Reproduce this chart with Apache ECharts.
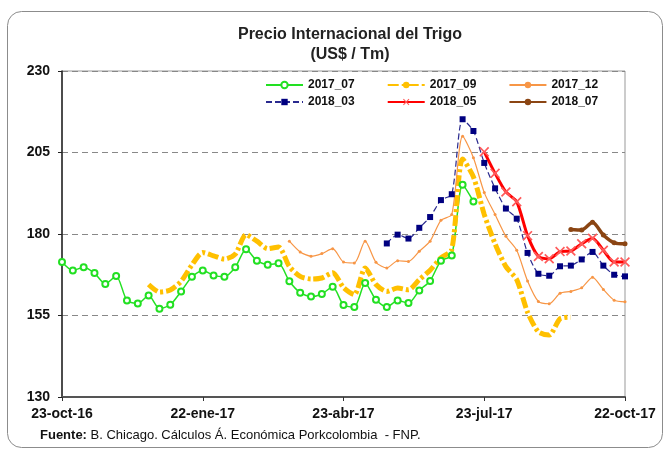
<!DOCTYPE html>
<html lang="es">
<head>
<meta charset="UTF-8" />
<title>Precio Internacional del Trigo</title>
<script src="https://cdn.jsdelivr.net/npm/echarts@6/dist/echarts.min.js"></script>
<style>
  html, body { margin: 0; padding: 0; background: #fff; }
  #main { width: 664px; height: 450px; }
</style>
</head>
<body>
<div id="main"></div>
<script>
// semanas desde 23-oct-16 hasta 22-oct-17 (53 puntos)
var startDate = Date.UTC(2016, 9, 23);
var nWeeks = 53;
var tickLabels = ['23-oct-16', '22-ene-17', '23-abr-17', '23-jul-17', '22-oct-17'];
var tickStep = 13;

var s2017_07 = [171.4, 168.8, 169.8, 168, 164.7, 167.1, 159.6, 158.7, 161.1, 157.1,
  158.3, 162.4, 166.9, 168.8, 167.3, 166.9, 169.8, 175.3, 171.8, 170.6,
  171, 165.5, 162, 160.8, 161.6, 163.8, 158.2, 157.6, 165, 159.8,
  157.6, 159.6, 158.8, 162.7, 165.6, 171.8, 173.4, 195.1, 190];
var s2017_09 = [null, null, null, null, null, null, null, null, 164.5, 162.2,
  162.8, 165.5, 170.5, 174.3, 173.3, 172.3, 173.8, 179.8, 177.8, 175.5,
  176, 170, 167, 166.2, 166.5, 168.1, 163.6, 161.4, 169.6, 164.5,
  162.4, 163.4, 162.9, 166, 168.9, 172.7, 175.2, 203, 197.5, 186,
  177, 170, 166, 156, 150, 149, 154, 154.5];
var s2017_12 = [null, null, null, null, null, null, null, null, null, null,
  null, null, null, null, null, null, null, null, null, null,
  null, 177.8, 174.5, 173.2, 174, 175.5, 171.4, 171.1, 177.8, 171.3,
  169.6, 171.8, 171.6, 174.7, 177.8, 184.2, 186, 210, 203.4, 192.7,
  186, 179.3, 175, 165.6, 159.3, 158.6, 161.8, 162.4, 163.5, 166.7,
  163, 159.7, 159.2];
var s2018_03 = [null, null, null, null, null, null, null, null, null, null,
  null, null, null, null, null, null, null, null, null, null,
  null, null, null, null, null, null, null, null, null, null,
  177.1, 179.8, 178.6, 181.9, 185.2, 190.4, 192.2, 215.2, 211.6, 201.8,
  194, 187.8, 184.7, 174.2, 167.8, 167.2, 170.1, 170.3, 172.2, 174.5,
  170.3, 167.5, 167];
var s2018_05 = [null, null, null, null, null, null, null, null, null, null,
  null, null, null, null, null, null, null, null, null, null,
  null, null, null, null, null, null, null, null, null, null,
  null, null, null, null, null, null, null, null, null, 205.2,
  198.6, 192.9, 189.9, 179.5, 173.1, 172.4, 174.6, 174.8, 177, 178.7,
  175, 171.4, 171.4];
var s2018_07 = [null, null, null, null, null, null, null, null, null, null,
  null, null, null, null, null, null, null, null, null, null,
  null, null, null, null, null, null, null, null, null, null,
  null, null, null, null, null, null, null, null, null, null,
  null, null, null, null, null, null, null, 181.4, 181.2, 183.6,
  179.7, 177.3, 177];

var meses = ['ene', 'feb', 'mar', 'abr', 'may', 'jun', 'jul', 'ago', 'sep', 'oct', 'nov', 'dic'];
var categories = [];
for (var i = 0; i < nWeeks; i++) {
  var d = new Date(startDate + i * 7 * 86400000);
  categories.push(d.getUTCDate() + '-' + meses[d.getUTCMonth()] + '-' + String(d.getUTCFullYear()).slice(2));
}

var font = "'Liberation Sans', Arial, sans-serif";
// cruz delgada para 2018_05
var xMarker = 'path://M0,1.2L1.2,0L5,3.8L8.8,0L10,1.2L6.2,5L10,8.8L8.8,10L5,6.2L1.2,10L0,8.8L3.8,5Z';

var myChart = echarts.init(document.getElementById('main'), null, { renderer: 'canvas' });

var legendText = { fontFamily: font, fontSize: 12, fontWeight: 'bold', color: '#111' };

var option = {
  backgroundColor: '#fff',
  animation: false,
  title: {
    text: 'Precio Internacional del Trigo\n(US$ / Tm)',
    left: 345,
    top: 20,
    textAlign: 'center',
    textStyle: { fontFamily: font, fontSize: 16, fontWeight: 'bold', color: '#222', lineHeight: 20 }
  },
  legend: [{
    data: ['2017_07', '2017_09', '2017_12'],
    left: 265, top: 79,
    itemWidth: 37, itemHeight: 8, itemGap: 32, padding: 0,
    textStyle: legendText
  }, {
    data: ['2018_03', '2018_05', '2018_07'],
    left: 265, top: 96,
    itemWidth: 37, itemHeight: 8, itemGap: 32, padding: 0,
    textStyle: legendText
  }],
  grid: {
    left: 62, right: 39, top: 71, bottom: 53,
    show: true, borderColor: '#999', borderWidth: 1
  },
  xAxis: {
    type: 'category',
    data: categories,
    boundaryGap: false,
    axisLine: { lineStyle: { color: '#555', width: 2 } },
    axisTick: {
      length: 4, lineStyle: { color: '#333' },
      interval: function (idx) { return idx % tickStep === 0; }
    },
    axisLabel: {
      margin: 10,
      interval: function (idx) { return idx % tickStep === 0; },
      formatter: function (v, idx) { return tickLabels[idx / tickStep]; },
      fontFamily: font, fontSize: 14, fontWeight: 'bold', color: '#111'
    },
    splitLine: { show: false }
  },
  yAxis: {
    type: 'value',
    min: 130, max: 230, interval: 25,
    axisLine: { show: true, lineStyle: { color: '#222', width: 1.5 } },
    axisTick: { show: true, length: 4, lineStyle: { color: '#222' } },
    axisLabel: { margin: 12, fontFamily: font, fontSize: 14, fontWeight: 'bold', color: '#111' },
    splitLine: { lineStyle: { color: '#888', type: [6, 4], width: 1 } }
  },
  series: [{
    name: '2017_07', type: 'line', data: s2017_07, smooth: 0.25,
    symbol: 'emptyCircle', symbolSize: 6, showAllSymbol: true,
    lineStyle: { color: '#22e022', width: 1.5 },
    itemStyle: { color: '#22e022', borderWidth: 1.5 }
  }, {
    name: '2017_09', type: 'line', data: s2017_09, smooth: 0.25,
    symbol: 'none',
    lineStyle: { color: '#ffc000', width: 5, type: [11, 3, 3, 3] },
    itemStyle: { color: '#ffc000' }
  }, {
    name: '2017_12', type: 'line', data: s2017_12, smooth: 0.25,
    symbol: 'circle', symbolSize: 3, showAllSymbol: true,
    lineStyle: { color: '#f79646', width: 1.2 },
    itemStyle: { color: '#f79646' }
  }, {
    name: '2018_03', type: 'line', data: s2018_03, smooth: 0.25,
    symbol: 'rect', symbolSize: 6, showAllSymbol: true,
    lineStyle: { color: '#2a2a8f', width: 1.2, type: [6, 3] },
    itemStyle: { color: '#000080' }
  }, {
    name: '2018_05', type: 'line', data: s2018_05, smooth: 0.25,
    symbol: xMarker, symbolSize: 10, showAllSymbol: true,
    lineStyle: { color: '#ff0000', width: 3 },
    itemStyle: { color: '#ff5a5a' }
  }, {
    name: '2018_07', type: 'line', data: s2018_07, smooth: 0.25,
    symbol: 'circle', symbolSize: 5, showAllSymbol: true,
    lineStyle: { color: '#8b4513', width: 3.5 },
    itemStyle: { color: '#8b4513' }
  }],
  graphic: [{
    type: 'rect', silent: true, z: -1,
    shape: { x: 7.5, y: 11.5, width: 655, height: 436, r: 14 },
    style: { fill: 'none', stroke: '#8c8c8c', lineWidth: 1 }
  }, {
    type: 'text', left: 40, top: 429,
    style: {
      text: '{b|Fuente:} B. Chicago. Cálculos Á. Económica Porkcolombia  - FNP.',
      fontFamily: font, fontSize: 13, fill: '#111',
      rich: { b: { fontFamily: font, fontSize: 13, fontWeight: 'bold', fill: '#111' } }
    }
  }]
};

myChart.setOption(option);
</script>
</body>
</html>
